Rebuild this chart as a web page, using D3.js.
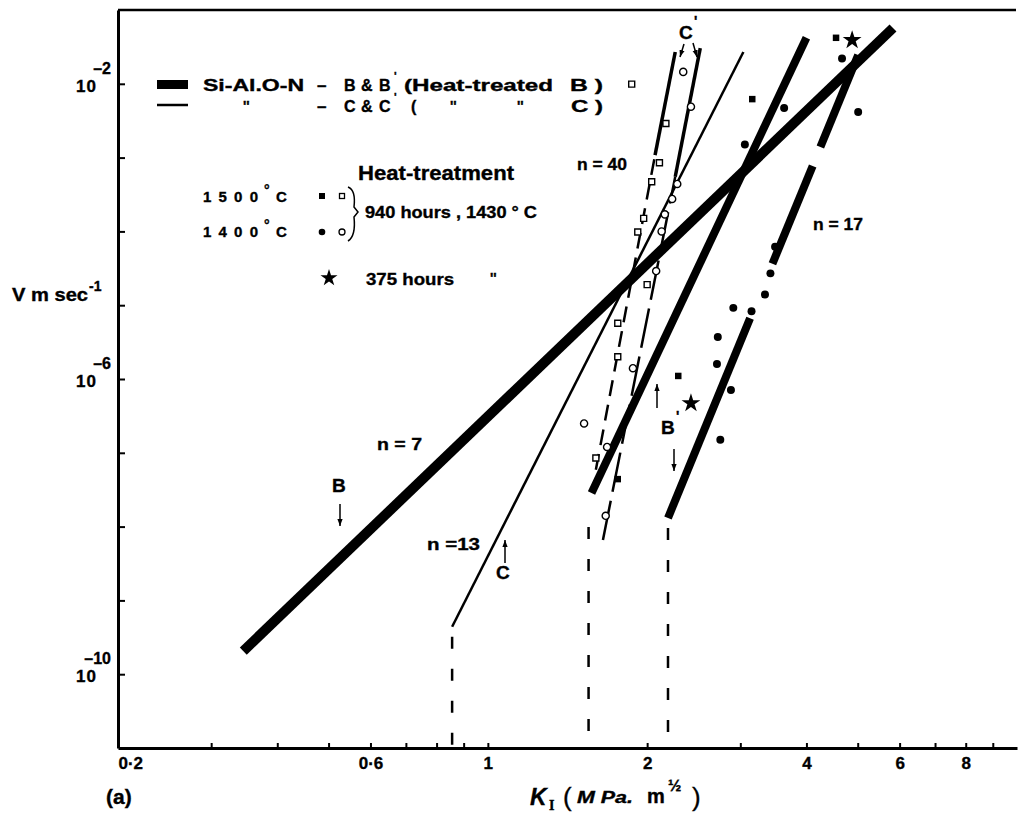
<!DOCTYPE html>
<html>
<head>
<meta charset="utf-8">
<script src="https://cdn.jsdelivr.net/npm/d3@7"></script>
<style>
  body { margin: 0; background: #fff; }
  svg { display: block; font-family: "Liberation Sans", Arial, sans-serif; font-weight: bold; }
  svg text { stroke: #000; stroke-width: 0.35px; }
</style>
</head>
<body>
<svg id="chart" width="1020" height="814"></svg>
<script>
// K_I in MPa m^1/2, V in m/sec
var kMinorTicks = [0.3, 0.4, 0.5, 0.6, 0.7, 0.8, 0.9, 1, 2, 3, 4, 5, 6, 7, 8, 9];
var kTickLabels = [0.2, 0.6, 1, 2, 4, 6, 8];
var vTicks = [1e-2, 1e-3, 1e-4, 1e-5, 1e-6, 1e-7, 1e-8, 1e-9, 1e-10];
var vTickLabels = [1e-2, 1e-6, 1e-10];

// fitted lines (end points K, V)
var lineB = [[0.345, 2.06e-10], [5.83, 5.7e-2]];               // n = 7
var lineBp1 = [[1.57, 2.85e-8], [4.0, 4.2e-2]];                // heat treated B, 1500
var lineBp2 = [                                                // heat treated B, n = 17
  [[2.19, 1.31e-8], [3.13, 6.65e-6]],
  [[3.45, 3.65e-5], [4.11, 7.7e-4]],
  [[4.25, 1.39e-3], [5.01, 2.45e-2]]
];
var lineC = [[0.856, 4.4e-10], [3.04, 2.7e-2]];                // n = 13
var lineCp1 = [[2.07, 1.08e-3], [2.26, 2.7e-2]];               // n = 40
var lineCp1Ext = [[1.60, 5.9e-8], [2.07, 1.08e-3]];
var lineCp2 = [[2.26, 5.5e-4], [2.52, 3.05e-2]];
var lineCp2Ext = [[1.65, 6.6e-9], [2.26, 5.5e-4]];

// threshold K0 (dashed drops to the axis)
var thresholdK = [0.856, 1.55, 2.19];
var thresholdV = [4.4e-10, 1.35e-8, 1.31e-8];

// data points
var sq1500C = [[1.87, 9.9e-3], [2.17, 2.9e-3], [2.11, 8.5e-4], [2.04, 4.7e-4], [1.97, 1.5e-4],
  [1.92, 9.8e-5], [2.00, 1.9e-5], [1.76, 5.7e-6], [1.76, 2.0e-6], [1.60, 8.5e-8]];
var circ1400C = [[2.34, 1.45e-2], [2.42, 4.9e-3], [2.28, 4.4e-4], [2.23, 2.75e-4], [2.16, 1.7e-4],
  [2.13, 1.0e-4], [2.08, 2.9e-5], [1.88, 1.4e-6], [1.52, 2.5e-7], [1.68, 1.2e-7], [1.67, 1.4e-8]];
var sq1500B = [[3.16, 6.2e-3], [4.55, 4.2e-2], [2.29, 1.1e-6], [1.76, 4.4e-8]];
var circ1400B = [[3.06, 1.5e-3], [3.63, 4.7e-3], [4.67, 2.2e-2], [5.01, 4.15e-3], [3.49, 6.2e-5],
  [3.42, 2.7e-5], [3.34, 1.4e-5], [2.91, 9.2e-6], [3.15, 8.3e-6], [2.72, 3.7e-6], [2.71, 1.6e-6],
  [2.88, 7.1e-7], [2.75, 1.5e-7]];
var star375 = [[2.42, 4.7e-7], [4.88, 3.9e-2]];

var svg = d3.select("#chart");
var x = d3.scaleLog().domain([0.2, 10]).range([118, 1017]);
var y = d3.scaleLog().domain([1e-11, 1e-1]).range([748, 10]);
var line = d3.line().x(function(d) { return x(d[0]); }).y(function(d) { return y(d[1]); });

// arrow head
svg.append("defs").append("marker")
  .attr("id", "arr").attr("viewBox", "0 0 8 8").attr("refX", 8).attr("refY", 4)
  .attr("markerWidth", 7).attr("markerHeight", 7).attr("markerUnits", "userSpaceOnUse")
  .attr("orient", "auto")
  .append("path").attr("d", "M0,1 L8,4 L0,7 Z").attr("fill", "#000");

// frame top
svg.append("line").attr("x1", 118).attr("x2", 1016).attr("y1", 10).attr("y2", 10)
  .attr("stroke", "#000").attr("stroke-width", 2.5);

// axes
var gx = svg.append("g").attr("transform", "translate(0,748)")
  .call(d3.axisBottom(x).tickValues(kMinorTicks).tickSize(-5).tickSizeOuter(0).tickFormat(""));
gx.select(".domain").attr("stroke-width", 3);
gx.selectAll(".tick line").attr("stroke-width", 2);

var gxl = svg.append("g").attr("transform", "translate(0,748)")
  .call(d3.axisBottom(x).tickValues(kTickLabels).tickSize(0).tickPadding(9)
    .tickFormat(function(d) { return String(d).replace(".", "\u00b7"); }));
gxl.select(".domain").remove();
gxl.selectAll("text").attr("font-size", 17).attr("font-weight", "bold")
  .attr("font-family", "Liberation Sans, Arial, sans-serif")
  .attr("text-anchor", function(d) { return d === 0.2 ? "start" : "middle"; });

var gy = svg.append("g").attr("transform", "translate(118,0)")
  .call(d3.axisLeft(y).tickValues(vTicks).tickSize(-7).tickSizeOuter(0).tickFormat(""));
gy.select(".domain").attr("stroke-width", 3);
gy.selectAll(".tick line").attr("stroke-width", 2);

var yl = svg.append("g").selectAll("g").data(vTickLabels).enter().append("g")
  .attr("transform", function(d) { return "translate(0," + y(d) + ")"; });
yl.append("text").attr("x", 97).attr("y", 8).attr("text-anchor", "end").attr("font-size", 17)
  .attr("letter-spacing", 1).text("10");
yl.append("text").attr("x", 111).attr("y", -10).attr("text-anchor", "end").attr("font-size", 16)
  .text(function(d) { return "\u2013" + Math.round(-Math.log10(d)); });

// axis titles
svg.append("text").attr("x", 12).attr("y", 301).attr("font-size", 18)
  .attr("textLength", 76).attr("lengthAdjust", "spacingAndGlyphs").text("V  m sec");
svg.append("text").attr("x", 89).attr("y", 291).attr("font-size", 14).text("-1");

svg.append("text").attr("x", 106).attr("y", 804).attr("font-size", 21).text("(a)");
svg.append("text").attr("x", 530).attr("y", 805).attr("font-size", 23).attr("font-style", "italic").text("K");
svg.append("text").attr("x", 549).attr("y", 810).attr("font-size", 14)
  .attr("font-family", "Liberation Serif, serif").text("I");
svg.append("text").attr("x", 563).attr("y", 806).attr("font-size", 26).attr("font-weight", "normal").text("(");
svg.append("text").attr("x", 577).attr("y", 803).attr("font-size", 16).attr("font-style", "italic")
  .attr("textLength", 56).attr("lengthAdjust", "spacingAndGlyphs").text("M Pa.");
svg.append("text").attr("x", 647).attr("y", 803).attr("font-size", 20).text("m");
svg.append("text").attr("x", 668).attr("y", 791).attr("font-size", 16).text("\u00bd");
svg.append("text").attr("x", 692).attr("y", 806).attr("font-size", 26).attr("font-weight", "normal").text(")");

// threshold dashes
svg.append("g").selectAll("line").data(thresholdK).enter().append("line")
  .attr("x1", function(d) { return x(d); }).attr("x2", function(d) { return x(d); })
  .attr("y1", function(d, i) { return y(thresholdV[i]); }).attr("y2", y(1e-11))
  .attr("stroke", "#000").attr("stroke-width", 2.5)
  .attr("stroke-dasharray", "12,20").attr("stroke-dashoffset", 22);

// lines
function drawLine(data, w, dash) {
  var p = svg.append("path").datum(data).attr("d", line)
    .attr("fill", "none").attr("stroke", "#000").attr("stroke-width", w);
  if (dash) p.attr("stroke-dasharray", dash);
  return p;
}
drawLine(lineB, 10);
drawLine(lineBp1, 8);
lineBp2.forEach(function(seg) { drawLine(seg, 8); });
drawLine(lineC, 2.5);
drawLine(lineCp1, 3.5);
drawLine(lineCp1Ext, 2.5, "16,9");
drawLine(lineCp2, 3.5);
drawLine(lineCp2Ext, 2.5, "40,9");

// points
function drawPoints(data, type, size, filled) {
  svg.append("g").selectAll("path").data(data).enter().append("path")
    .attr("transform", function(d) { return "translate(" + x(d[0]) + "," + y(d[1]) + ")"; })
    .attr("d", d3.symbol().type(type).size(size))
    .attr("fill", filled ? "#000" : "#fff")
    .attr("stroke", "#000").attr("stroke-width", filled ? 0 : 1.4);
}
drawPoints(sq1500C, d3.symbolSquare, 36, false);
drawPoints(circ1400C, d3.symbolCircle, 40, false);
drawPoints(sq1500B, d3.symbolSquare, 42, true);
drawPoints(circ1400B, d3.symbolCircle, 50, true);
drawPoints(star375, d3.symbolStar, 110, true);

// annotations
function txt(xp, yp, s, size, extra) {
  var t = svg.append("text").attr("x", xp).attr("y", yp).attr("font-size", size).text(s);
  if (extra) Object.keys(extra).forEach(function(k) { t.attr(k, extra[k]); });
  return t;
}
function arrow(x1, y1, x2, y2) {
  svg.append("line").attr("x1", x1).attr("y1", y1).attr("x2", x2).attr("y2", y2)
    .attr("stroke", "#000").attr("stroke-width", 1.5).attr("marker-end", "url(#arr)");
}
txt(577, 170, "n = 40", 17, {textLength: 50, lengthAdjust: "spacingAndGlyphs"});
txt(813, 230, "n = 17", 17, {textLength: 50, lengthAdjust: "spacingAndGlyphs"});
txt(377, 450, "n =  7", 17, {textLength: 45, lengthAdjust: "spacingAndGlyphs"});
txt(427, 550, "n =13", 17, {textLength: 53, lengthAdjust: "spacingAndGlyphs"});
txt(332, 492, "B", 19);
arrow(340, 504, 340, 526);
txt(496, 579, "C", 19);
arrow(505, 563, 505, 540);
txt(661, 434, "B", 19);
txt(676, 421, "'", 14);
arrow(657, 408, 657, 384);
arrow(674, 449, 674, 471);
txt(679, 39, "C", 19);
txt(694, 26, "'", 14);
arrow(684, 44, 680, 57);
arrow(693, 43, 697, 57);

// legend
svg.append("rect").attr("x", 157).attr("y", 80).attr("width", 31).attr("height", 9).attr("fill", "#000");
svg.append("line").attr("x1", 157).attr("x2", 188).attr("y1", 105).attr("y2", 105)
  .attr("stroke", "#000").attr("stroke-width", 2.5);
txt(203, 91, "Si-Al.O-N", 16, {textLength: 101, lengthAdjust: "spacingAndGlyphs"});
txt(317, 91, "\u2013", 17);
txt(344, 91, "B", 16);
txt(361, 91, "&", 16);
txt(379, 91, "B", 16);
txt(394, 80, "'", 11);
txt(404, 91, "(Heat-treated", 16, {textLength: 149, lengthAdjust: "spacingAndGlyphs"});
txt(570, 91, "B )", 16, {textLength: 33, lengthAdjust: "spacingAndGlyphs"});
txt(243, 111, "''", 14);
txt(317, 112, "\u2013", 17);
txt(344, 112, "C", 16);
txt(361, 112, "&", 16);
txt(379, 112, "C", 16);
txt(394, 101, "'", 11);
txt(411, 112, "(", 16);
txt(450, 111, "''", 14);
txt(517, 111, "''", 14);
txt(571, 112, "C )", 16, {textLength: 32, lengthAdjust: "spacingAndGlyphs"});

txt(358, 180, "Heat-treatment", 21, {textLength: 156, lengthAdjust: "spacingAndGlyphs"});
txt(203, 202, "1500", 15, {textLength: 55, lengthAdjust: "spacing"});
txt(264, 195, "\u00b0", 14);
txt(276, 202, "C", 15);
txt(203, 237, "1400", 15, {textLength: 55, lengthAdjust: "spacing"});
txt(264, 230, "\u00b0", 14);
txt(276, 237, "C", 15);
svg.append("rect").attr("x", 319).attr("y", 193).attr("width", 6).attr("height", 6).attr("fill", "#000");
svg.append("rect").attr("x", 339.5).attr("y", 193.5).attr("width", 5).attr("height", 5)
  .attr("fill", "#fff").attr("stroke", "#000").attr("stroke-width", 1.3);
svg.append("circle").attr("cx", 322).attr("cy", 232).attr("r", 3.3).attr("fill", "#000");
svg.append("circle").attr("cx", 342).attr("cy", 232).attr("r", 3).attr("fill", "#fff")
  .attr("stroke", "#000").attr("stroke-width", 1.3);
svg.append("path").attr("d", "M348,187 Q356,190 354,207 L358,212 L354,217 Q356,236 348,241")
  .attr("fill", "none").attr("stroke", "#000").attr("stroke-width", 1.5);
txt(365, 218, "940 hours , 1430 \u00b0 C", 17, {textLength: 172, lengthAdjust: "spacingAndGlyphs"});
svg.append("path").attr("transform", "translate(329,278)")
  .attr("d", d3.symbol().type(d3.symbolStar).size(90)).attr("fill", "#000");
txt(366, 285, "375 hours", 17, {textLength: 88, lengthAdjust: "spacingAndGlyphs"});
txt(490, 283, "''", 14);
</script>
</body>
</html>
